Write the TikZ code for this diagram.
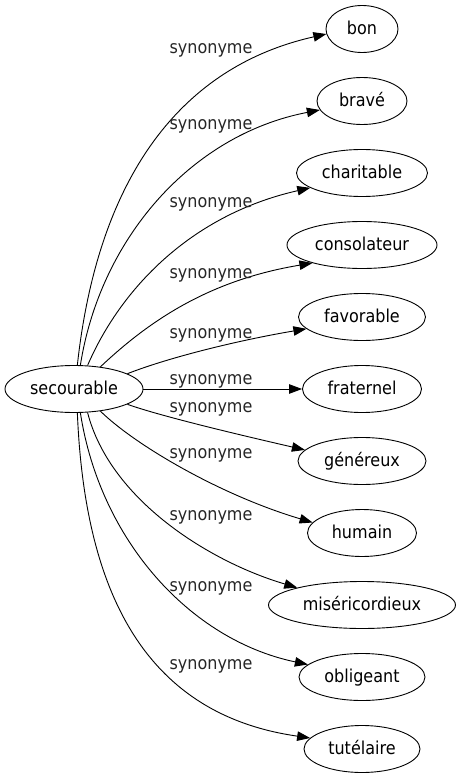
\documentclass[tikz,border=0pt]{standalone}
\usepackage{fontspec}
\setmainfont{DejaVu Sans}[FakeStretch=0.9]
\usetikzlibrary{shapes.geometric,arrows.meta}
\begin{document}
\begin{tikzpicture}[x=1pt,y=-1pt,
  font=\fontsize{17.8}{20}\selectfont,
  word/.style={draw,ellipse,line width=0.9pt,inner sep=0pt,minimum height=47pt,text height=13pt,text depth=2pt},
  rel/.style={anchor=base,inner sep=0pt,text=black!85},
  edge/.style={draw,line width=0.9pt,-{Triangle[length=13pt,width=9.5pt]}}]
\useasboundingbox (0,0) rectangle (461,779);
\node[word,minimum width=138pt] (s) at (74,389) {secourable};
\node[word,minimum width=72pt]  (bon) at (362,29) {bon};
\node[word,minimum width=90pt]  (brave) at (362,101) {bravé};
\node[word,minimum width=131pt] (charitable) at (362,173) {charitable};
\node[word,minimum width=150pt] (consolateur) at (362,245) {consolateur};
\node[word,minimum width=127pt] (favorable) at (362,317) {favorable};
\node[word,minimum width=119pt] (fraternel) at (362,389) {fraternel};
\node[word,minimum width=128pt] (genereux) at (362,461) {généreux};
\node[word,minimum width=109pt] (humain) at (362,533) {humain};
\node[word,minimum width=187pt] (mis) at (362,605) {miséricordieux};
\node[word,minimum width=126pt] (obligeant) at (362,677) {obligeant};
\node[word,minimum width=116pt] (tutelaire) at (362,749) {tutélaire};

\draw[edge] (s.82.6) .. controls (97,185) and (175,68) .. (bon.188);
\draw[edge] (s.75.4) .. controls (100,240) and (190,135) .. (brave.192);
\draw[edge] (s.60.5) .. controls (120,290) and (190,215) .. (charitable.196);
\draw[edge] (s.40.5) .. controls (150,320) and (210,280) .. (consolateur.200);
\draw[edge] (s.16.2) .. controls (170,357) and (240,340) .. (favorable.192);
\draw[edge] (s.0) -- (fraternel.180);
\draw[edge] (s.-16.2) .. controls (160,416) and (240,435) .. (genereux.169);
\draw[edge] (s.-40.5) .. controls (135,445) and (220,495) .. (humain.168);
\draw[edge] (s.-60.5) .. controls (110,500) and (210,562) .. (mis.165);
\draw[edge] (s.-75.4) .. controls (100,540) and (190,640) .. (obligeant.167);
\draw[edge] (s.-82.6) .. controls (85,600) and (150,715) .. (tutelaire.168);

\node[rel] (l1) at (211,53.5) {synonyme};
\node[rel] (l2) at (211,129.5) {synonyme};
\node[rel] (l3) at (211,207.5) {synonyme};
\node[rel] (l4) at (211,278.5) {synonyme};
\node[rel] (l5) at (211,338.5) {synonyme};
\node[rel] (l6) at (211,384.5) {synonyme};
\node[rel] (l7) at (211,412.5) {synonyme};
\node[rel] (l8) at (211,458.5) {synonyme};
\node[rel] (l9) at (211,520.5) {synonyme};
\node[rel] (l10) at (211,591.5) {synonyme};
\node[rel] (l11) at (211,669.5) {synonyme};
\end{tikzpicture}
\end{document}
